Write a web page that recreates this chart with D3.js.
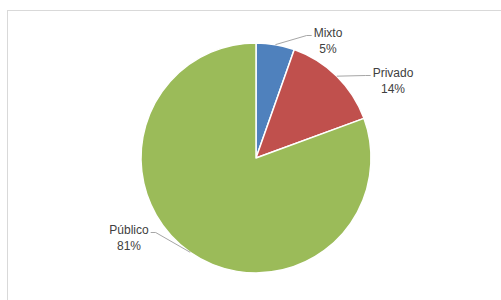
<!DOCTYPE html>
<html>
<head>
<meta charset="utf-8">
<script src="https://cdn.jsdelivr.net/npm/d3@7.9.0/dist/d3.min.js"></script>
<style>
  html, body { margin: 0; padding: 0; background: #fff; }
  svg { display: block; }
  text { font-family: "Liberation Sans", Arial, sans-serif; font-size: 12px; fill: #404040; }
</style>
</head>
<body>
<svg id="chart" width="501" height="300"></svg>
<script>
// data
const categories = ['Mixto', 'Privado', 'Público'];
const shares = [5.4, 14.0, 80.6];
const colors = ['#4f81bd', '#c0504d', '#9bbb59'];

// where the data labels sit (centre x, first baseline y)
const labelPos = [[328, 37], [393, 77], [129, 234]];

const width = 501, height = 300;
const cx = 256, cy = 158, radius = 115;

const svg = d3.select('#chart');

// chart area border (clipped by the window on the right and bottom)
svg.append('rect')
  .attr('x', 7.5).attr('y', 10.5)
  .attr('width', 520).attr('height', 320)
  .attr('fill', 'none')
  .attr('stroke', '#d9d9d9')
  .attr('stroke-width', 1);

let pie = d3.pie().sort(null).value((d) => d);
let arcData = pie(shares);
let arcGen = d3.arc().innerRadius(0).outerRadius(radius);
let edgeArc = d3.arc().innerRadius(radius).outerRadius(radius);

let g = svg.append('g').attr('transform', `translate(${cx},${cy})`);

g.selectAll('path')
  .data(arcData)
  .join('path')
  .attr('d', arcGen)
  .attr('fill', (d, i) => colors[i])
  .attr('stroke', '#fff')
  .attr('stroke-width', 1.5)
  .attr('stroke-linejoin', 'round');

let total = d3.sum(shares);

arcData.forEach((d, i) => {
  let [lx, ly] = labelPos[i];
  let t = svg.append('text')
    .attr('text-anchor', 'middle')
    .attr('x', lx).attr('y', ly);
  t.append('tspan').attr('x', lx).text(categories[i]);
  t.append('tspan').attr('x', lx).attr('dy', 16)
    .text(Math.round(d.value / total * 100) + '%');

  let half = t.node().firstChild.getComputedTextLength() / 2;
  let [ex, ey] = edgeArc.centroid(d);
  ex += cx; ey += cy;
  let onRight = lx > cx;
  let endX = onRight ? lx - half - 2 : lx + half + 2;
  let endY = ly - 1.5;
  let elbowX = onRight ? endX - 5 : endX + 5;

  svg.append('path')
    .attr('d', d3.line()([[ex, ey], [elbowX, endY], [endX, endY]]))
    .attr('fill', 'none')
    .attr('stroke', '#a6a6a6')
    .attr('stroke-width', 1);
});
</script>
</body>
</html>
